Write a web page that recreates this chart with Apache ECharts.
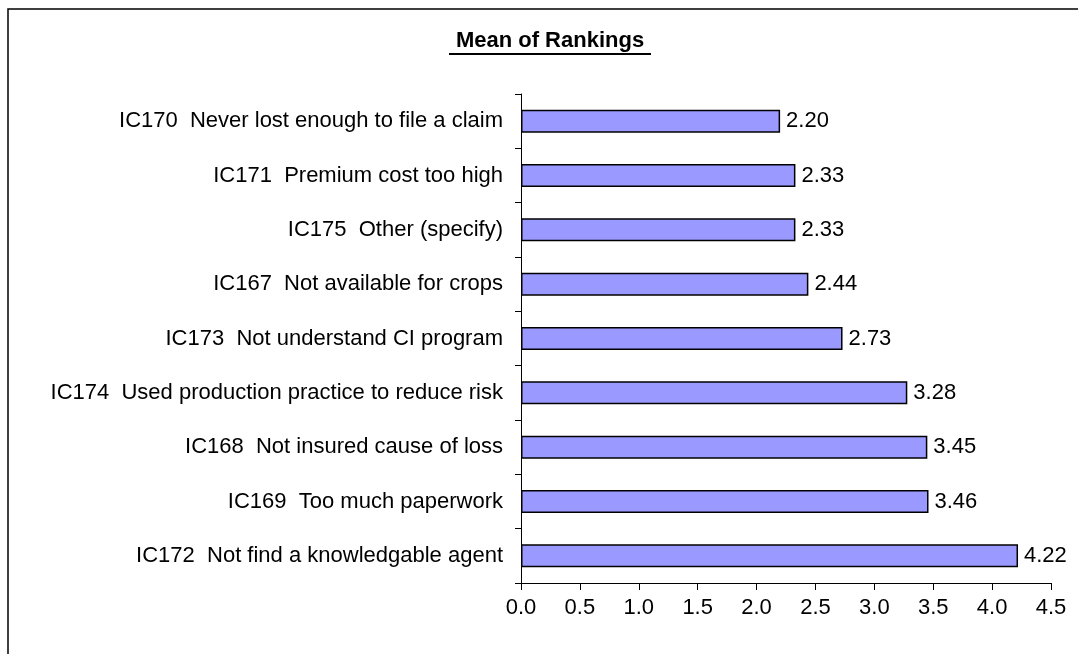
<!DOCTYPE html>
<html>
<head>
<meta charset="utf-8">
<script src="https://cdn.jsdelivr.net/npm/echarts@6/dist/echarts.min.js"></script>
<style>
    html, body { margin: 0; padding: 0; background: #fff; }
    #chart { width: 1078px; height: 654px; }
</style>
</head>
<body>
<div id="chart"></div>
<script>
    // categories, top to bottom
    var categories = [
        'IC170  Never lost enough to file a claim',
        'IC171  Premium cost too high',
        'IC175  Other (specify)',
        'IC167  Not available for crops',
        'IC173  Not understand CI program',
        'IC174  Used production practice to reduce risk',
        'IC168  Not insured cause of loss',
        'IC169  Too much paperwork',
        'IC172  Not find a knowledgable agent'
    ];
    var meanValues = [2.20, 2.33, 2.33, 2.44, 2.73, 3.28, 3.45, 3.46, 4.22];
    var chartTitle = 'Mean of Rankings';

    var font = 'Liberation Sans, Arial, sans-serif';
    var myChart = echarts.init(document.getElementById('chart'));

    var option = {
        animation: false,
        title: {
            text: chartTitle,
            left: 550,
            top: 30,
            padding: 0,
            textAlign: 'center',
            textStyle: {
                fontFamily: font,
                fontSize: 22,
                fontWeight: 'bold',
                color: '#000'
            }
        },
        grid: {
            left: 521,
            right: 27,
            top: 94,
            bottom: 71,
            containLabel: false
        },
        xAxis: {
            type: 'value',
            min: 0,
            max: 4.5,
            interval: 0.5,
            splitLine: {show: false},
            axisLine: {show: true, lineStyle: {color: '#000', width: 1}},
            axisTick: {show: true, length: 7, lineStyle: {color: '#000'}},
            axisLabel: {
                color: '#000',
                fontFamily: font,
                fontSize: 22,
                margin: 14,
                formatter: function (val) {
                    return val.toFixed(1);
                }
            }
        },
        yAxis: {
            type: 'category',
            inverse: true,
            data: categories,
            axisLine: {show: true, lineStyle: {color: '#000', width: 1}},
            axisTick: {show: true, length: 6, lineStyle: {color: '#000'}},
            axisLabel: {
                color: '#000',
                fontFamily: font,
                fontSize: 22,
                margin: 18
            }
        },
        series: [
            {
                type: 'bar',
                data: meanValues,
                barWidth: 23,
                itemStyle: {
                    color: '#9999FF',
                    borderColor: '#000',
                    borderWidth: 1.5
                },
                label: {
                    show: true,
                    position: 'right',
                    distance: 6,
                    color: '#000',
                    fontFamily: font,
                    fontSize: 22,
                    formatter: function (p) {
                        return p.value.toFixed(2);
                    }
                }
            }
        ],
        graphic: [
            // outer frame, runs off the right and bottom edges
            {
                type: 'rect',
                shape: {x: 8, y: 9, width: 1100, height: 700},
                style: {fill: 'none', stroke: '#000', lineWidth: 1.5},
                silent: true
            },
            // title underline
            {
                type: 'line',
                shape: {x1: 449, y1: 54, x2: 651, y2: 54},
                style: {stroke: '#000', lineWidth: 2},
                silent: true
            }
        ]
    };
    myChart.setOption(option);
</script>
</body>
</html>
